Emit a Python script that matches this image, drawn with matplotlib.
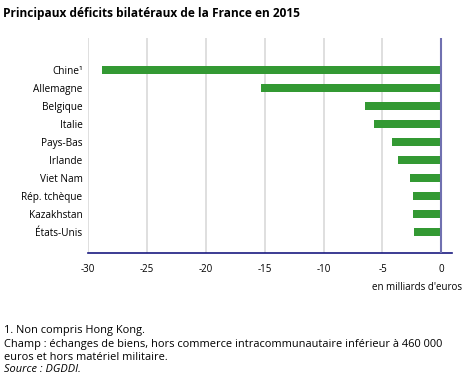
import matplotlib
matplotlib.use('Agg')
import matplotlib.pyplot as plt

plt.rcParams['font.family'] = ['Open Sans', 'DejaVu Sans']

# données (milliards d'euros)
pays = ['Chine¹', 'Allemagne', 'Belgique', 'Italie', 'Pays-Bas', 'Irlande',
        'Viet Nam', 'Rép. tchèque', 'Kazakhstan', 'États-Unis']
soldes = [-28.8, -15.3, -6.5, -5.7, -4.2, -3.7, -2.7, -2.4, -2.4, -2.3]
xticks = [-30, -25, -20, -15, -10, -5, 0]

fig = plt.figure(figsize=(4.69, 3.83), dpi=100)
ax = fig.add_axes([88 / 469, 1 - 253 / 383, (452 - 88) / 469, (253 - 38) / 383])

ypos = list(range(len(pays)))
ax.barh(ypos, soldes, height=0.45, color='#339933', zorder=3)

ax.set_xlim(-30, 0.9)
ax.set_ylim(len(pays) - 1 + 1.17, -1.78)
ax.set_xticks(xticks)
ax.set_xticklabels([str(v) for v in xticks], fontsize=7)
ax.set_yticks(ypos)
ax.set_yticklabels(pays, fontsize=7.2)
ax.tick_params(axis='both', length=0, pad=4)
ax.tick_params(axis='x', pad=8)

for v in xticks[:-1]:
    ax.axvline(v, color='#d9d9d9', lw=1.2, zorder=1)
ax.axvline(0, color='#7070b0', lw=1.5, zorder=4)

for s in ['top', 'right', 'left']:
    ax.spines[s].set_visible(False)
ax.spines['bottom'].set_color('#1a1a80')
ax.spines['bottom'].set_linewidth(1.2)

fig.text(3 / 469, 1 - 14 / 383, 'Principaux déficits bilatéraux de la France en 2015',
         fontsize=8.6, fontweight='bold', va='center', ha='left')
fig.text(462 / 469, 1 - 288 / 383, "en milliards d'euros", fontsize=7,
         ha='right', va='center')

# notes
fig.text(4 / 469, 1 - 330 / 383, '1. Non compris Hong Kong.', fontsize=7.9, va='center')
fig.text(4 / 469, 1 - 344 / 383,
         'Champ : échanges de biens, hors commerce intracommunautaire inférieur à 460 000',
         fontsize=7.9, va='center')
fig.text(4 / 469, 1 - 357 / 383, 'euros et hors matériel militaire.', fontsize=7.9, va='center')
fig.text(4 / 469, 1 - 370 / 383, 'Source : DGDDI.', fontsize=7.9, style='italic', va='center')

fig.savefig('out.png', dpi=100)
